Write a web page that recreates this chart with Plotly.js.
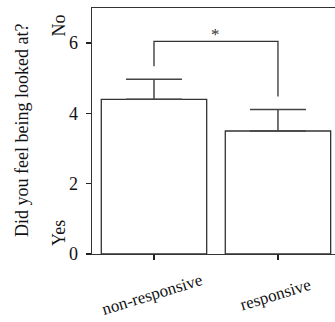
<!DOCTYPE html>
<html>
<head>
<meta charset="utf-8">
<script src="https://cdn.plot.ly/plotly-3.0.1.min.js"></script>
<style>html,body{margin:0;padding:0;background:#fff;}#chart{width:335px;height:322px;}</style>
</head>
<body>
<div id="chart"></div>
<script>
const categories = ["non-responsive", "responsive"];
const means = [4.40, 3.50];
const errors = [0.57, 0.61];
const yTickVals = [0, 2, 4, 6];
const yTitle = "Did you feel being looked at?";
const scaleLabels = ["Yes", "No"];
const scaleLabelValues = [0.6, 6.5];
const sigLabel = "*";
const sigBracketY = 6.05;
const sigGap = 0.37;

const font = "Liberation Serif, Times New Roman, serif";
const idx = categories.map((c, i) => i);

const traces = [{
  type: "bar",
  x: idx,
  y: means,
  width: 0.85,
  marker: {color: "#ffffff", line: {color: "#333333", width: 1.3}},
  error_y: {type: "data", array: errors, symmetric: false, arrayminus: errors.map(() => 0),
            visible: true, color: "#444444", thickness: 1.5, width: 28},
  hoverinfo: "skip"
}];

const tops = means.map((m, i) => m + errors[i] + sigGap);
const shapes = [{
  type: "path", xref: "x", yref: "y",
  path: `M ${idx[0]} ${tops[0]} L ${idx[0]} ${sigBracketY} L ${idx[1]} ${sigBracketY} L ${idx[1]} ${tops[1]}`,
  line: {color: "#333333", width: 1.3}
}];

const annotations = [];
categories.forEach((c, i) => {
  annotations.push({x: idx[i], y: 0, xref: "x", yref: "paper", text: c, showarrow: false,
    textangle: -17, xanchor: "center", yanchor: "middle", yshift: -40, xshift: -2,
    font: {family: font, size: 17, color: "#111"}});
});
scaleLabels.forEach((t, i) => {
  annotations.push({x: 0, xref: "paper", y: scaleLabelValues[i], yref: "y", text: t, showarrow: false,
    textangle: -90, xanchor: "center", yanchor: "middle", xshift: -33,
    font: {family: font, size: 18, color: "#111"}});
});
annotations.push({x: (idx[0] + idx[1]) / 2, y: sigBracketY, xref: "x", yref: "y", text: sigLabel,
  showarrow: false, yanchor: "middle", yshift: 7, font: {family: font, size: 17, color: "#333"}});
annotations.push({x: 0, xref: "paper", y: 0.5, yref: "paper", text: yTitle, showarrow: false,
  textangle: -90, xanchor: "center", yanchor: "middle", xshift: -70,
  font: {family: font, size: 18, color: "#111"}});

const layout = {
  width: 335, height: 322,
  margin: {l: 92, r: 0, t: 8, b: 68},
  paper_bgcolor: "#fff", plot_bgcolor: "#fff",
  showlegend: false,
  xaxis: {range: [-0.5, 1.46], tickvals: idx, showticklabels: false, ticks: "outside", ticklen: 5,
          tickwidth: 1.5, tickcolor: "#222", showline: true, linecolor: "#333", linewidth: 1.3,
          mirror: true, showgrid: false, zeroline: false, fixedrange: true},
  yaxis: {range: [0, 7], tickvals: yTickVals, ticks: "outside", ticklen: 5, tickwidth: 1.5,
          tickcolor: "#222", showline: true, linecolor: "#333", linewidth: 1.3, showgrid: false,
          ticklabelstandoff: 4,
          zeroline: false, tickfont: {family: font, size: 18, color: "#111"}, fixedrange: true},
  shapes: shapes,
  annotations: annotations
};

Plotly.newPlot("chart", traces, layout, {displayModeBar: false, staticPlot: true});
</script>
</body>
</html>
